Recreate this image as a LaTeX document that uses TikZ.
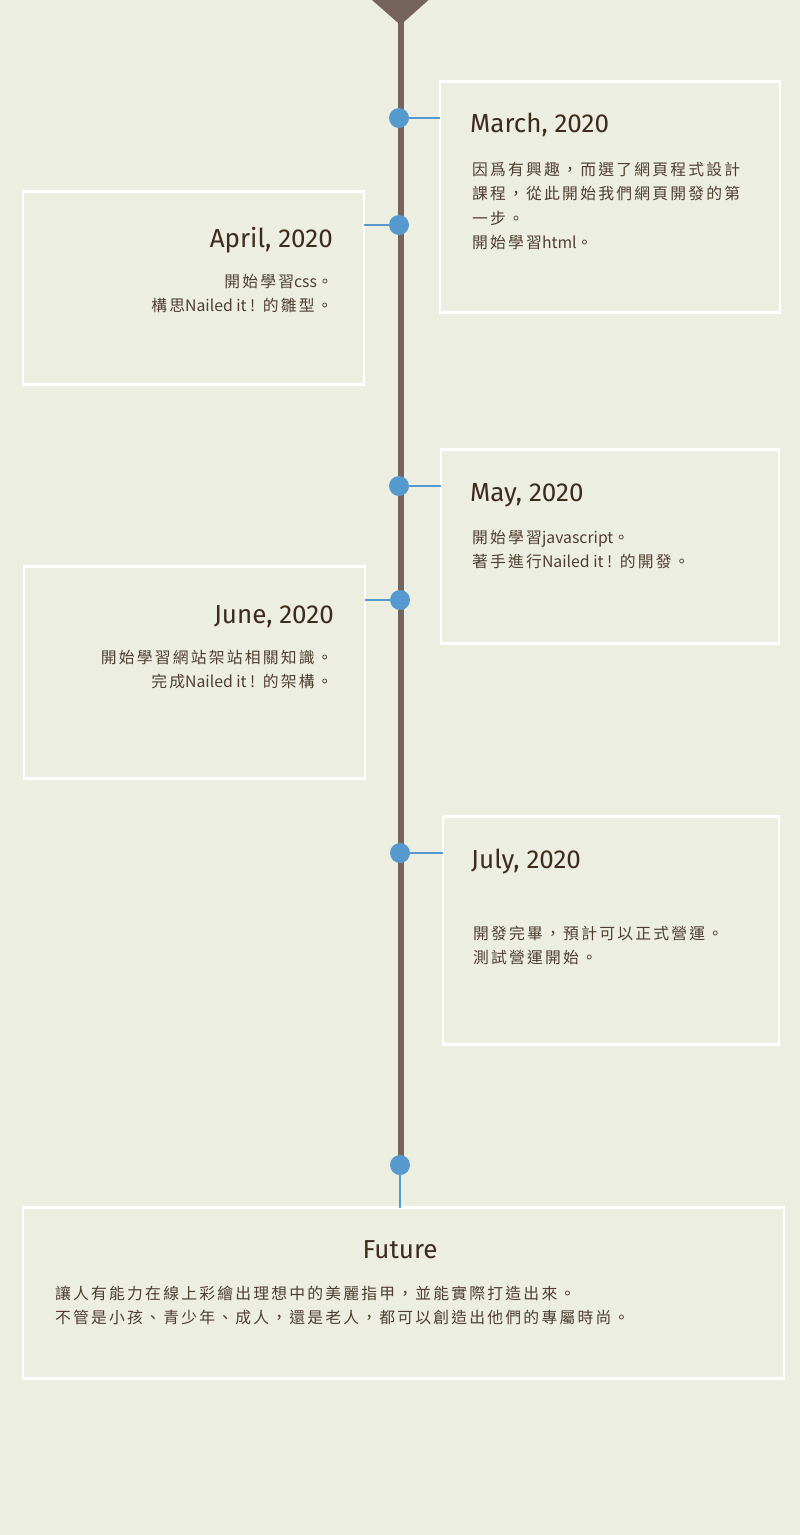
\documentclass[tikz,border=0pt]{standalone}
\usepackage{fontspec}
\setmainfont{Fira Sans}
\newfontfamily\cjkf[LetterSpace=14]{Noto Sans CJK TC}
\newfontfamily\latf{Noto Sans CJK TC}
\newcommand\enw[1]{{\latf #1}}
\definecolor{bgc}{HTML}{EBEEE1}
\definecolor{trunkc}{HTML}{76635B}
\definecolor{dotc}{HTML}{5599CF}
\definecolor{titlec}{HTML}{3D2B1C}
\definecolor{bodyc}{HTML}{4F3E30}
\tikzset{
  box/.style={draw=white, line width=2.6pt, inner sep=0pt, outer sep=0pt},
  dot/.style={circle, fill=dotc, minimum size=20pt, inner sep=0pt},
  conn/.style={draw=dotc, line width=1.8pt},
  timeline/.style={draw=trunkc, line width=6pt},
  ttl/.style={inner sep=0pt, text=titlec, font=\fontsize{26pt}{30pt}\selectfont},
  bdy/.style={inner sep=0pt, text=bodyc, font=\cjkf\fontsize{15.8pt}{24pt}\selectfont},
}
\begin{document}
\begin{tikzpicture}[x=1pt,y=-1pt]
\fill[bgc] (0,0) rectangle (800,1535);
\useasboundingbox (0,0) rectangle (800,1535);
% trunk
\coordinate (top) at (400.5,0);
\coordinate (bot) at (400.5,1165);
\draw[timeline] (top) -- (bot);
\fill[trunkc] (372,0) -- (428.5,0) -- (400.5,25) -- cycle;
% boxes
\node[box, anchor=north west, minimum width=340pt, minimum height=231pt] (mar) at (440,81.5) {};
\node[box, anchor=north west, minimum width=341pt, minimum height=193pt] (apr) at (23,191.5) {};
\node[box, anchor=north west, minimum width=338pt, minimum height=194pt] (may) at (441,449.5) {};
\node[box, anchor=north west, minimum width=341pt, minimum height=212pt] (jun) at (24,566.5) {};
\node[box, anchor=north west, minimum width=336pt, minimum height=228pt] (jul) at (443,816.5) {};
\node[box, anchor=north west, minimum width=761pt, minimum height=171pt] (fut) at (23,1207.5) {};
% dots
\node[dot] (d1) at (399,118) {};
\node[dot] (d2) at (399,225) {};
\node[dot] (d3) at (399,486) {};
\node[dot] (d4) at (400,600) {};
\node[dot] (d5) at (400,853) {};
\node[dot] (d6) at (400,1165) {};
% connectors
\draw[conn] (d1) -- (d1 -| mar.west);
\draw[conn] (d2) -- (d2 -| apr.east);
\draw[conn] (d3) -- (d3 -| may.west);
\draw[conn] (d4) -- (d4 -| jun.east);
\draw[conn] (d5) -- (d5 -| jul.west);
\draw[conn] (d6) -- (d6 |- fut.north);
% March
\node[ttl, anchor=base west] (tmar) at (470,132) {March, 2020};
\node[bdy, anchor=base west] (mar1) at (472,175) {因爲有興趣，而選了網頁程式設計};
\node[bdy, anchor=base west] (mar2) at (472,199.5) {課程，從此開始我們網頁開發的第};
\node[bdy, anchor=base west] (mar3) at (472,224) {一步。};
\node[bdy, anchor=base west] (mar4) at (472,248.5) {開始學習\enw{html}。};
% April
\node[ttl, anchor=base east] (tapr) at (333,247) {April, 2020};
\node[bdy, anchor=base east] (apr1) at (333,287) {開始學習\enw{css}。};
\node[bdy, anchor=base east] (apr2) at (333,311.5) {構思\enw{Nailed it !} 的雛型。};
% May
\node[ttl, anchor=base west] (tmay) at (470,501) {May, 2020};
\node[bdy, anchor=base west] (may1) at (472,543) {開始學習\enw{javascript}。};
\node[bdy, anchor=base west] (may2) at (472,567.5) {著手進行\enw{Nailed it !} 的開發。};
% June
\node[ttl, anchor=base east] (tjun) at (334,623) {June, 2020};
\node[bdy, anchor=base east] (jun1) at (333,663) {開始學習網站架站相關知識。};
\node[bdy, anchor=base east] (jun2) at (333,687.5) {完成\enw{Nailed it !} 的架構。};
% July
\node[ttl, anchor=base west] (tjul) at (471,868) {July, 2020};
\node[bdy, anchor=base west] (jul1) at (473,939) {開發完畢，預計可以正式營運。};
\node[bdy, anchor=base west] (jul2) at (473,963.5) {測試營運開始。};
% Future
\node[ttl, anchor=base] (tfut) at (400,1258) {Future};
\node[bdy, anchor=base west] (fut1) at (55,1299) {讓人有能力在線上彩繪出理想中的美麗指甲，並能實際打造出來。};
\node[bdy, anchor=base west] (fut2) at (55,1323.5) {不管是小孩、青少年、成人，還是老人，都可以創造出他們的專屬時尚。};
\end{tikzpicture}
\end{document}
